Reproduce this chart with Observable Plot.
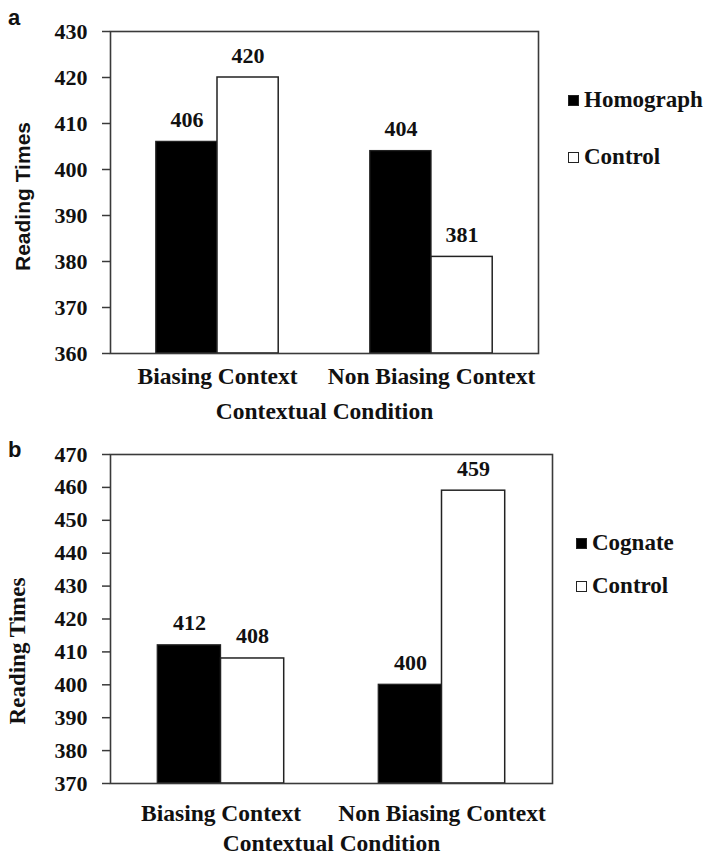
<!DOCTYPE html>
<html>
<head>
<meta charset="utf-8">
<script src="https://cdn.jsdelivr.net/npm/d3@7"></script>
<script src="https://cdn.jsdelivr.net/npm/@observablehq/plot@0.6"></script>
<style>
  html, body { margin: 0; padding: 0; background: #fff; }
  body { width: 709px; height: 855px; overflow: hidden; }
  .panel { position: relative; width: 709px; }
  .panel svg { display: block; }
  .tag { position: absolute; left: 8px; font-family: "Liberation Sans", Arial, sans-serif; font-weight: bold; font-size: 22px; color: #111; }
  .legend { position: absolute; font-family: "Times New Roman", "Liberation Serif", Tinos, serif; font-weight: bold; font-size: 23px; color: #111; }
  .legend .item { position: absolute; left: 0; display: flex; align-items: center; white-space: nowrap; transform: translateY(-50%); }
  .legend .swatch { width: 11px; height: 11px; border: 1.2px solid #222; margin-right: 5px; box-sizing: border-box; }
</style>
</head>
<body>
<div id="panelA" class="panel" style="height:420px"></div>
<div id="panelB" class="panel" style="height:435px"></div>
<script>
// Reading times by contextual condition
const categories = ["Biasing Context", "Non Biasing Context"];

// Panel a: homographs vs. controls
const seriesA = ["Homograph", "Control"];
const homographTimes = [406, 404];
const controlTimesA = [420, 381];
const yTicksA = [360, 370, 380, 390, 400, 410, 420, 430];

// Panel b: cognates vs. controls
const seriesB = ["Cognate", "Control"];
const cognateTimes = [412, 400];
const controlTimesB = [408, 459];
const yTicksB = [370, 380, 390, 400, 410, 420, 430, 440, 450, 460, 470];

const xTitle = "Contextual Condition";
const yTitle = "Reading Times";

const SERIF = "Times New Roman, Liberation Serif, Tinos, serif";
const SANS = "Liberation Sans, Arial, sans-serif";

function panel(opts) {
  const {
    el, tag, height, marginTop, marginRight, marginBottom, marginLeft,
    yTicks, names, first, second, xPad, yLabelFont, yLabelSize, yLabelDx, yLabelDy,
    xTitleDy, legendLeft, legendRows
  } = opts;
  const width = 709;
  const band = (width - marginLeft - marginRight) / categories.length;
  const barW = band * 0.286;
  const yMin = yTicks[0];
  const rowsFirst = categories.map((c, i) => ({cond: c, value: first[i]}));
  const rowsSecond = categories.map((c, i) => ({cond: c, value: second[i]}));
  const font = {fontFamily: SERIF, fontWeight: "bold", fontSize: 22, fill: "#111"};
  const bigFont = {...font, fontSize: 23.5};

  const chart = Plot.plot({
    width, height, marginTop, marginRight, marginBottom, marginLeft,
    x: {domain: categories, padding: 0, axis: null},
    y: {domain: [yMin, yTicks[yTicks.length - 1]], axis: null},
    style: {fontFamily: SERIF, fontWeight: "bold", fontSize: "22px", color: "#111", background: "transparent", overflow: "visible"},
    marks: [
      Plot.barY(rowsFirst, {
        x: "cond", y1: () => yMin, y2: "value",
        fill: "#000", stroke: "#222", strokeWidth: 1.3,
        insetLeft: band / 2 - barW, insetRight: band / 2
      }),
      Plot.barY(rowsSecond, {
        x: "cond", y1: () => yMin, y2: "value",
        fill: "#fff", stroke: "#222", strokeWidth: 1.5,
        insetLeft: band / 2, insetRight: band / 2 - barW
      }),
      Plot.frame({stroke: "#3a3a3a", strokeWidth: 1.6}),
      Plot.axisY({ticks: yTicks, tickFormat: d => String(d), tickSize: 8, tickPadding: 15, strokeWidth: 1.5, stroke: "#3a3a3a", label: null, ...font}),
      Plot.axisX({tickSize: 0, tickPadding: xPad, label: null, ...bigFont}),
      Plot.text(rowsFirst, {x: "cond", y: "value", text: d => String(d.value), dx: -barW / 2, dy: -15, lineAnchor: "bottom", ...font}),
      Plot.text(rowsSecond, {x: "cond", y: "value", text: d => String(d.value), dx: barW / 2, dy: -15, lineAnchor: "bottom", ...font}),
      Plot.text([xTitle], {frameAnchor: "bottom", dy: xTitleDy, lineAnchor: "middle", text: d => d, ...bigFont}),
      Plot.text([yTitle], {
        frameAnchor: "left", rotate: -90, dx: yLabelDx, dy: yLabelDy, text: d => d,
        textAnchor: "middle", lineAnchor: "middle",
        ...font, fontFamily: yLabelFont, fontSize: yLabelSize
      })
    ]
  });

  const root = document.getElementById(el);
  root.appendChild(chart);

  const t = document.createElement("div");
  t.className = "tag";
  t.style.top = opts.tagTop + "px";
  t.textContent = tag;
  root.appendChild(t);

  const legend = document.createElement("div");
  legend.className = "legend";
  legend.style.left = legendLeft + "px";
  legend.style.top = "0px";
  names.forEach((name, i) => {
    const item = document.createElement("div");
    item.className = "item";
    item.style.top = legendRows[i] + "px";
    const sw = document.createElement("span");
    sw.className = "swatch";
    sw.style.background = i === 0 ? "#000" : "#fff";
    const label = document.createElement("span");
    label.textContent = name;
    item.appendChild(sw);
    item.appendChild(label);
    legend.appendChild(item);
  });
  root.appendChild(legend);
}

panel({
  el: "panelA", tag: "a", tagTop: 5, height: 420,
  marginTop: 31, marginRight: 171, marginBottom: 67, marginLeft: 110,
  yTicks: yTicksA, names: seriesA, first: homographTimes, second: controlTimesA,
  xPad: 14, yLabelFont: SANS, yLabelSize: 21, yLabelDx: -87, yLabelDy: 4,
  xTitleDy: 58, legendLeft: 568, legendRows: [100, 157]
});

panel({
  el: "panelB", tag: "b", tagTop: 17, height: 435,
  marginTop: 34, marginRight: 157, marginBottom: 72, marginLeft: 110,
  yTicks: yTicksB, names: seriesB, first: cognateTimes, second: controlTimesB,
  xPad: 21, yLabelFont: SERIF, yLabelSize: 23, yLabelDx: -93, yLabelDy: 32,
  xTitleDy: 60, legendLeft: 576, legendRows: [123, 166]
});
</script>
</body>
</html>
